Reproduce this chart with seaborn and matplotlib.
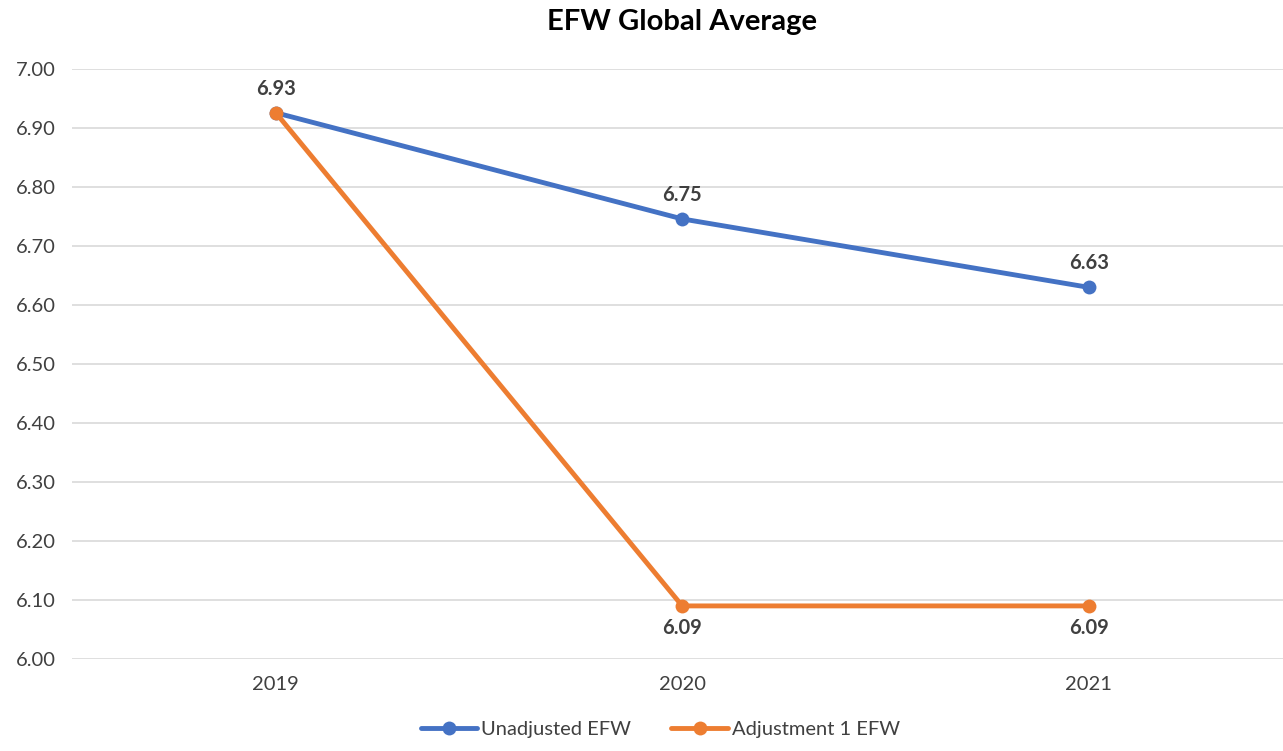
import matplotlib
matplotlib.use('Agg')
import matplotlib.pyplot as plt
import seaborn as sns
import pandas as pd

years = ['2019', '2020', '2021']
unadjusted = [6.926, 6.746, 6.630]
adjusted = [6.926, 6.090, 6.090]
series_names = ['Unadjusted EFW', 'Adjustment 1 EFW']
y_ticks = [6.0, 6.1, 6.2, 6.3, 6.4, 6.5, 6.6, 6.7, 6.8, 6.9, 7.0]

df = pd.DataFrame({
    'year': years * 2,
    'value': unadjusted + adjusted,
    'series': [series_names[0]] * 3 + [series_names[1]] * 3,
})

sns.set_style('white')
plt.rcParams['font.family'] = ['Lato', 'DejaVu Sans']

fig = plt.figure(figsize=(12.83, 7.51), dpi=100)
ax = fig.add_axes([0.0565, 0.1225, 0.9505, 0.7855])

colors = {series_names[0]: '#4472C4', series_names[1]: '#ED7D31'}
sns.lineplot(data=df, x='year', y='value', hue='series', palette=colors,
             marker='o', markersize=10, markeredgewidth=0, linewidth=3.5,
             sort=False, ax=ax)

ax.set_ylim(6.0, 7.0)
ax.set_xlim(-0.5, 2.5)
ax.set_yticks(y_ticks)
ax.set_yticklabels([f'{t:.2f}' for t in y_ticks])
ax.grid(axis='y', color='#D9D9D9', linewidth=1.2)
ax.set_axisbelow(True)
for s in ax.spines.values():
    s.set_visible(False)
ax.tick_params(axis='both', length=0, labelsize=14.5, colors='#404040', pad=12)
ax.set_xlabel('')
ax.set_ylabel('')

# data labels
lab = dict(fontsize=14.5, fontweight='bold', color='#404040', ha='center')
for i, v in enumerate(unadjusted):
    ax.annotate(f'{v:.2f}', (i, v), xytext=(0, 10), textcoords='offset points', va='bottom', **lab)
for i, v in enumerate(adjusted):
    if i == 0:
        continue
    ax.annotate(f'{v:.2f}', (i, v), xytext=(0, -9), textcoords='offset points', va='top', **lab)

ax.set_title('EFW Global Average', fontsize=21, fontweight='bold', color='black', pad=28)

leg = ax.legend(loc='upper center', bbox_to_anchor=(0.5 - 0.018, -0.075), ncol=2,
                frameon=False, fontsize=14.5, handlelength=2.8, columnspacing=2.0,
                handletextpad=0.2)
for t in leg.get_texts():
    t.set_color('#404040')

fig.savefig('out.png', dpi=100)
